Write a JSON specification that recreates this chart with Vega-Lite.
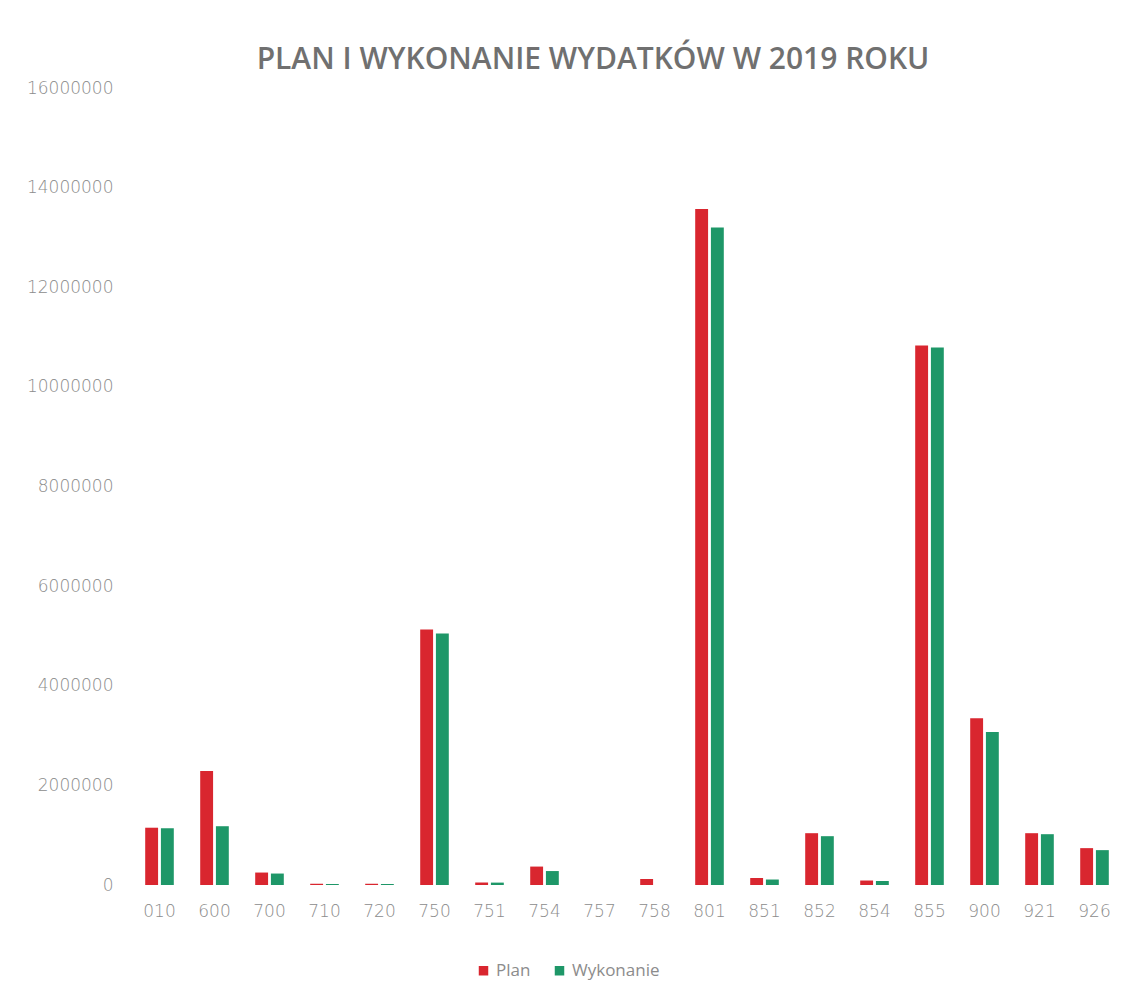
{
  "$schema": "https://vega.github.io/schema/vega-lite/v6.json",
  "autosize": "none",
  "width": 990,
  "height": 797,
  "padding": {"left": 132, "top": 88, "right": 3, "bottom": 119},
  "background": "white",
  "title": {
    "text": "PLAN I WYKONANIE WYDATKÓW W 2019 ROKU",
    "font": "Open Sans",
    "fontSize": 30,
    "fontWeight": 600,
    "color": "#707070",
    "anchor": "middle",
    "frame": "group",
    "dx": -34,
    "offset": 4
  },
  "data": {
    "values": [
      {"dzial": "010", "typ": "Plan", "kwota": 1150000},
      {"dzial": "010", "typ": "Wykonanie", "kwota": 1140000},
      {"dzial": "600", "typ": "Plan", "kwota": 2290000},
      {"dzial": "600", "typ": "Wykonanie", "kwota": 1180000},
      {"dzial": "700", "typ": "Plan", "kwota": 250000},
      {"dzial": "700", "typ": "Wykonanie", "kwota": 230000},
      {"dzial": "710", "typ": "Plan", "kwota": 25000},
      {"dzial": "710", "typ": "Wykonanie", "kwota": 20000},
      {"dzial": "720", "typ": "Plan", "kwota": 25000},
      {"dzial": "720", "typ": "Wykonanie", "kwota": 20000},
      {"dzial": "750", "typ": "Plan", "kwota": 5130000},
      {"dzial": "750", "typ": "Wykonanie", "kwota": 5050000},
      {"dzial": "751", "typ": "Plan", "kwota": 50000},
      {"dzial": "751", "typ": "Wykonanie", "kwota": 48000},
      {"dzial": "754", "typ": "Plan", "kwota": 370000},
      {"dzial": "754", "typ": "Wykonanie", "kwota": 280000},
      {"dzial": "757", "typ": "Plan", "kwota": 0},
      {"dzial": "757", "typ": "Wykonanie", "kwota": 0},
      {"dzial": "758", "typ": "Plan", "kwota": 120000},
      {"dzial": "758", "typ": "Wykonanie", "kwota": 0},
      {"dzial": "801", "typ": "Plan", "kwota": 13570000},
      {"dzial": "801", "typ": "Wykonanie", "kwota": 13200000},
      {"dzial": "851", "typ": "Plan", "kwota": 140000},
      {"dzial": "851", "typ": "Wykonanie", "kwota": 110000},
      {"dzial": "852", "typ": "Plan", "kwota": 1040000},
      {"dzial": "852", "typ": "Wykonanie", "kwota": 980000},
      {"dzial": "854", "typ": "Plan", "kwota": 90000},
      {"dzial": "854", "typ": "Wykonanie", "kwota": 80000},
      {"dzial": "855", "typ": "Plan", "kwota": 10830000},
      {"dzial": "855", "typ": "Wykonanie", "kwota": 10790000},
      {"dzial": "900", "typ": "Plan", "kwota": 3350000},
      {"dzial": "900", "typ": "Wykonanie", "kwota": 3070000},
      {"dzial": "921", "typ": "Plan", "kwota": 1040000},
      {"dzial": "921", "typ": "Wykonanie", "kwota": 1020000},
      {"dzial": "926", "typ": "Plan", "kwota": 740000},
      {"dzial": "926", "typ": "Wykonanie", "kwota": 700000}
    ]
  },
  "mark": {"type": "bar"},
  "encoding": {
    "x": {
      "field": "dzial",
      "type": "nominal",
      "sort": null,
      "title": null,
      "scale": {"paddingInner": 0.48, "paddingOuter": 0.24},
      "axis": {
        "labelAngle": 0,
        "ticks": false,
        "domain": false,
        "labelPadding": 18,
        "labelFont": "DejaVu Sans",
        "labelFontWeight": 200,
        "labelFontSize": 17,
        "labelColor": "#8c8c8c"
      }
    },
    "xOffset": {
      "field": "typ",
      "type": "nominal",
      "sort": ["Plan", "Wykonanie"],
      "scale": {"paddingInner": 0.18}
    },
    "y": {
      "field": "kwota",
      "type": "quantitative",
      "title": null,
      "scale": {"domain": [0, 16000000], "nice": false},
      "axis": {
        "values": [0, 2000000, 4000000, 6000000, 8000000, 10000000, 12000000, 14000000, 16000000],
        "format": "d",
        "grid": false,
        "ticks": false,
        "domain": false,
        "labelPadding": 19,
        "labelFont": "DejaVu Sans",
        "labelFontWeight": 200,
        "labelFontSize": 17,
        "labelColor": "#8c8c8c"
      }
    },
    "color": {
      "field": "typ",
      "type": "nominal",
      "sort": ["Plan", "Wykonanie"],
      "scale": {"domain": ["Plan", "Wykonanie"], "range": ["#d9262f", "#1e9768"]},
      "legend": {
        "title": null,
        "orient": "none",
        "direction": "horizontal",
        "legendX": 343,
        "legendY": 874,
        "symbolType": "square",
        "symbolSize": 90,
        "symbolStrokeWidth": 0,
        "labelFont": "Open Sans",
        "labelFontSize": 17,
        "labelColor": "#8c8c8c",
        "columnPadding": 20
      }
    }
  },
  "config": {
    "view": {"stroke": null}
  }
}
